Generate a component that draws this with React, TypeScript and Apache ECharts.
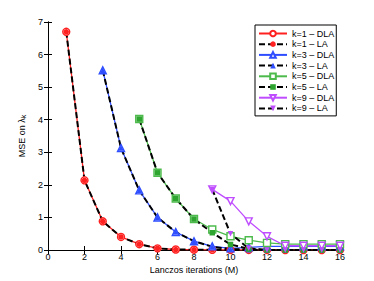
import React, { useEffect, useRef } from "react";
import * as echarts from "echarts";

const xK1 = [1, 2, 3, 4, 5, 6, 7, 8, 9, 10, 11, 12, 13, 14, 15, 16];
const k1DLA = [6.7, 2.14, 0.88, 0.4, 0.18, 0.05, 0.015, 0.01, 0.005, 0.003, 0.002, 0.001, 0, 0, 0, 0];
const k1LA = [6.7, 2.14, 0.88, 0.4, 0.18, 0.05, 0.015, 0.01, 0.005, 0.003, 0.002, 0.001, 0, 0, 0, 0];
const xK3 = [3, 4, 5, 6, 7, 8, 9, 10, 11, 12, 13, 14, 15, 16];
const k3DLA = [5.52, 3.13, 1.83, 1.0, 0.55, 0.27, 0.11, 0.05, 0.08, 0.11, 0.11, 0.11, 0.11, 0.11];
const k3LA = [5.52, 3.13, 1.83, 1.0, 0.55, 0.27, 0.1, 0.03, 0.01, 0, 0, 0, 0, 0];
const xK5 = [5, 6, 7, 8, 9, 10, 11, 12, 13, 14, 15, 16];
const k5DLA = [4.02, 2.37, 1.58, 0.95, 0.63, 0.42, 0.3, 0.22, 0.18, 0.18, 0.18, 0.18];
const k5LA = [4.02, 2.37, 1.58, 0.95, 0.53, 0.17, 0.03, 0, 0, 0, 0, 0];
const xK9 = [9, 10, 11, 12, 13, 14, 15, 16];
const k9DLA = [1.86, 1.5, 0.88, 0.42, 0.13, 0.13, 0.13, 0.13];
const k9LA = [1.86, 0.5, 0.05, 0, 0, 0, 0, 0];

const xTicks = [0, 2, 4, 6, 8, 10, 12, 14, 16];
const yTicks = [0, 1, 2, 3, 4, 5, 6, 7];

const RED = "#ff2020";
const BLUE = "#2e4dff";
const GREEN = "#2ea52e";
const GREEN_L = "#4cbb4c";
const MAG = "#bf4dff";

const pairs = (xs: number[], ys: number[]) => xs.map((x, i) => [x, ys[i]]);

export default function App() {
  const ref = useRef<HTMLDivElement>(null);
  useEffect(() => {
    if (!ref.current) return;
    const chart = echarts.init(ref.current, undefined, { renderer: "svg" });
    const font = "Liberation Sans";
    const dla = (name: string, xs: number[], ys: number[], color: string, symbol: string, rot = 0) => ({
      name,
      type: "line",
      data: pairs(xs, ys),
      symbol,
      symbolSize: 7,
      symbolRotate: rot,
      showSymbol: true,
      lineStyle: { color, width: 1.3 },
      itemStyle: { color: "#ffffff", borderColor: color, borderWidth: 1.4 },
      color,
    });
    const la = (name: string, xs: number[], ys: number[], color: string, symbol: string, rot = 0) => ({
      name,
      type: "line",
      data: pairs(xs, ys),
      symbol,
      symbolSize: 5.5,
      symbolRotate: rot,
      lineStyle: { color: "#000000", width: 2, type: [6, 3] },
      itemStyle: { color, borderColor: color, borderWidth: 0 },
      color,
    });
    const series = [
      dla("k=1 – DLA", xK1, k1DLA, RED, "circle"),
      la("k=1 – LA", xK1, k1LA, RED, "circle"),
      dla("k=3 – DLA", xK3, k3DLA, BLUE, "triangle"),
      la("k=3 – LA", xK3, k3LA, BLUE, "triangle"),
      dla("k=5 – DLA", xK5, k5DLA, GREEN_L, "rect"),
      la("k=5 – LA", xK5, k5LA, GREEN, "rect"),
      dla("k=9 – DLA", xK9, k9DLA, MAG, "triangle", 180),
      la("k=9 – LA", xK9, k9LA, MAG, "triangle", 180),
    ];
    const axisCommon = {
      axisLine: { lineStyle: { color: "#000", width: 1 } },
      axisTick: { inside: true, length: 4, lineStyle: { color: "#000" } },
      splitLine: { show: false },
    };
    chart.setOption({
      animation: false,
      textStyle: { fontFamily: font },
      grid: { left: 48, right: 34, top: 22, bottom: 31 },
      legend: {
        orient: "vertical",
        left: 255,
        top: 25,
        backgroundColor: "#fff",
        borderColor: "#000",
        borderWidth: 1,
        borderRadius: 0,
        padding: [4, 2, 3, 3],
        itemGap: 1.7,
        itemWidth: 28,
        itemHeight: 7,
        textStyle: { fontSize: 9, lineHeight: 9, color: "#000", fontFamily: font },
        data: series.map((s) => s.name),
      },
      xAxis: [
        {
          type: "value",
          min: 0,
          max: 16,
          interval: 2,
          name: "Lanczos iterations (M)",
          nameLocation: "middle",
          nameGap: 15,
          nameTextStyle: { fontSize: 9, color: "#000" },
          axisLabel: { fontSize: 9, color: "#000", margin: 2, formatter: (v: number) => (xTicks.includes(v) ? String(v) : "") },
          ...axisCommon,
        },
        {
          type: "value",
          position: "top",
          min: 0,
          max: 16,
          interval: 2,
          axisLabel: { show: false },
          ...axisCommon,
        },
      ],
      yAxis: [
        {
          type: "value",
          min: 0,
          max: 7,
          interval: 1,
          name: "{a|MSE on λ}{b|k}",
          nameLocation: "middle",
          nameGap: 13,
          nameRotate: 90,
          nameTextStyle: {
            rich: {
              a: { fontSize: 9, color: "#000", fontFamily: font },
              b: { fontSize: 7, color: "#000", fontFamily: font, verticalAlign: "bottom", padding: [4, 0, 0, 0] },
            },
          },
          axisLabel: { fontSize: 9, color: "#000", margin: 5, formatter: (v: number) => (yTicks.includes(v) ? String(v) : "") },
          ...axisCommon,
        },
        {
          type: "value",
          position: "right",
          min: 0,
          max: 7,
          interval: 1,
          axisLabel: { show: false },
          ...axisCommon,
        },
      ],
      series,
    });
    return () => chart.dispose();
  }, []);
  return <div ref={ref} style={{ width: 374, height: 281, position: "absolute", left: 0, top: 0, background: "#fff" }} />;
}
